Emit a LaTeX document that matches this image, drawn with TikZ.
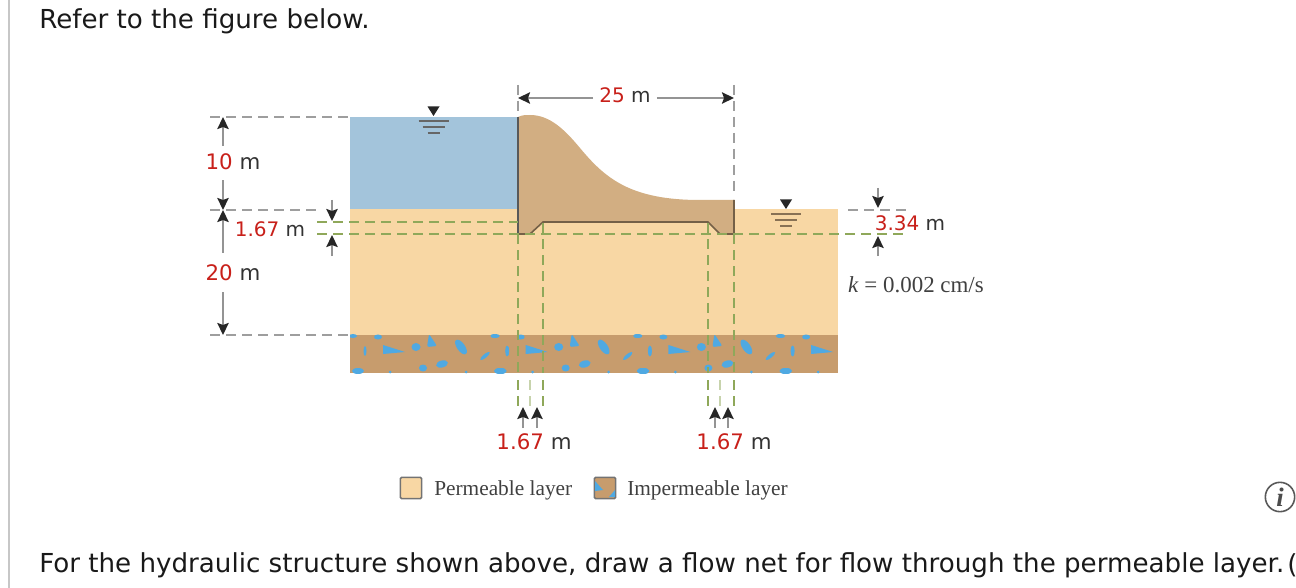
\documentclass[tikz,border=0pt]{standalone}
\usepackage{fontspec}
\setmainfont{DejaVu Sans}
\newfontfamily\bookfont{Liberation Serif}
\usetikzlibrary{arrows.meta}

\definecolor{waterc}{HTML}{A3C4DB}
\definecolor{soilc}{HTML}{F8D7A4}
\definecolor{rockc}{HTML}{C79C6D}
\definecolor{damc}{HTML}{D2AE82}
\definecolor{blobc}{HTML}{4FA9E2}
\definecolor{redc}{HTML}{C8201A}
\definecolor{greenc}{HTML}{8FA85A}

\tikzstyle{lbl}=[inner sep=0pt,font=\fontsize{16}{18}\selectfont,text=black!80]
\tikzstyle{lbls}=[lbl,font=\fontsize{15}{18}\selectfont]
\tikzstyle{book}=[inner sep=0pt,font=\bookfont\fontsize{16}{18}\selectfont,text=black!75]
\tikzstyle{para}=[inner sep=0pt,anchor=west,font=\fontsize{19.6}{23}\selectfont,text=black!90]
\tikzstyle{dim}=[draw=black!42,line width=1.5pt,-{Stealth[black!85,length=9pt,width=8.5pt,inset=1.5pt]}]
\tikzstyle{gline}=[draw=black!38,line width=1.5pt,dash pattern=on 7.5pt off 4.5pt]
\tikzstyle{gdash}=[draw=greenc,line width=1.5pt,dash pattern=on 7.5pt off 4.5pt]
\tikzstyle{swatch}=[minimum size=16pt,inner sep=0pt,draw=black!55,line width=1.2pt,rounded corners=1pt]

\newcommand{\redm}[1]{\textcolor{redc}{#1} m}
\newcommand{\blob}[5]{\fill[blobc,shift={(#1,#2)},rotate=#5] (0,0) ellipse (#3 and #4);}
\newcommand{\wtable}[3]{%
    \fill[black!85] (#1-6,#2-9.5) -- (#1+6,#2-9.5) -- (#1,#2) -- cycle;
    \draw[#3,line width=1.3pt] (#1-15,#2+5) -- (#1+15,#2+5);
    \draw[#3,line width=1.3pt] (#1-11,#2+11) -- (#1+11,#2+11);
    \draw[#3,line width=1.3pt] (#1-6,#2+17) -- (#1+6,#2+17);}

\begin{document}
\begin{tikzpicture}[x=0.75pt,y=-0.75pt]
        \useasboundingbox (0,0) rectangle (1296,588);
        \fill[black!22] (8,0) rectangle (10,588);

        % ground and water
        \fill[waterc] (350,117) rectangle (518,209);
        \fill[soilc] (350,209) rectangle (838,335);
        \fill[rockc] (350,335) rectangle (838,373);
        \begin{scope}
            \clip (350,333) rectangle (838,373);
            \foreach \dx in {0,142.7,285.4,428.1} {
                \begin{scope}[shift={(\dx,0)}]
                    \blob{353}{336}{4}{2}{0}
                    \blob{378}{337}{4}{2.5}{0}
                    \blob{494}{336}{3.5}{2}{0}
                    \blob{365}{351}{1.5}{5}{0}
                    \fill[blobc] (383,345) -- (405,352) -- (383,354) -- cycle;
                    \blob{416}{347}{4.5}{4}{0}
                    \fill[blobc,rounded corners=1.5pt] (429,334) -- (437,346) -- (427,347) -- cycle;
                    \blob{461}{347}{4}{8.5}{35}
                    \blob{485}{356}{1.8}{6}{-50}
                    \blob{507}{351}{1.8}{5.5}{0}
                    \blob{358}{371}{6}{3}{0}
                    \blob{423}{368}{4}{3.5}{0}
                    \blob{442}{364}{6}{3.5}{15}
                    \blob{390}{372}{1.5}{1.5}{0}
                    \blob{466}{372}{1.5}{1.5}{0}
                    \blob{500}{371}{6}{3}{0}
                \end{scope}
            }
        \end{scope}

        % structure
        \fill[damc] (518,117) .. controls (522,115) and (526,115) .. (530,115)
            .. controls (550,115) and (565,130) .. (580,148)
            .. controls (605,178) and (630,200) .. (700,200)
            -- (734,200) -- (734,234) -- (720,234) -- (708,222) -- (543,222)
            -- (530,234) -- (518,234) -- cycle;
        \draw[black!45!damc,line width=1.2pt] (518,234) -- (530,234) -- (543,222) -- (708,222)
            -- (720,234) -- (734,234) -- (734,200);
        \draw[black!65,line width=1.2pt] (518,117) -- (518,234);

        % water tables
        \wtable{433.5}{116}{black!60}
        \wtable{786}{209}{black!35!damc}

        % reference points
        \coordinate (tl) at (210,117);
        \coordinate (tr) at (348,117);
        \coordinate (ml) at (210,210);
        \coordinate (mr) at (318,210);
        \coordinate (bl) at (210,335);
        \coordinate (br) at (348,335);
        \coordinate (ga) at (317,222);
        \coordinate (gb) at (317,234);
        \coordinate (gc) at (518,222);
        \coordinate (gd) at (908,234);
        \coordinate (ra) at (848,210);
        \coordinate (rb) at (908,210);

        % dashed guides
        \draw[gline] (tl) -- (tr);
        \draw[gline] (ml) -- (mr);
        \draw[gline] (bl) -- (br);
        \draw[gline] (ra) -- (rb);
        \draw[gdash] (ga) -- (gc);
        \draw[gdash] (gb) -- (gd);
        \foreach \x/\y/\nm in {518/234/a,543/223/b,708/223/c,734/234/d} {
            \coordinate (\nm0) at (\x,\y);
            \coordinate (\nm1) at (\x,373);
            \coordinate (\nm2) at (\x,380);
            \coordinate (\nm3) at (\x,406);
            \draw[gdash] (\nm0) -- (\nm1);
            \draw[gdash] (\nm2) -- (\nm3);
        }
        \foreach \x/\nm in {530/e,720/f} {
            \coordinate (\nm2) at (\x,380);
            \coordinate (\nm3) at (\x,406);
            \draw[gdash,draw=greenc!50] (\nm2) -- (\nm3);
        }
        \coordinate (ta) at (518,85);
        \coordinate (tb) at (518,112);
        \coordinate (tc) at (734,85);
        \coordinate (td) at (734,195);
        \draw[gline] (ta) -- (tb);
        \draw[gline] (tc) -- (td);

        % labels
        \node[para] (title) at (39,21) {Refer to the figure below.};
        \node[para] (foot) at (39,565) {For the hydraulic structure shown above, draw a flow net for flow through the permeable layer.};
        \node[para] (foot2) at (1287,565) {(};
        \node[lbls] (l25) at (625,95) {\redm{25}};
        \node[lbl] (l10) at (233,162) {\redm{10}};
        \node[lbl] (l20) at (233,273) {\redm{20}};
        \node[lbls] (l167) at (270,229) {\redm{1.67}};
        \node[lbls] (l334) at (910,223) {\redm{3.34}};
        \node[lbl] (l167a) at (534,442) {\redm{1.67}};
        \node[lbl] (l167b) at (734,442) {\redm{1.67}};
        \node[book,font=\bookfont\fontsize{17.2}{18}\selectfont] (lk) at (916,285) {\textit{k} = 0.002 cm/s};

        % dimension arrows
        \coordinate (x10a) at (223,117);
        \coordinate (x10b) at (223,210);
        \coordinate (x20b) at (223,335);
        \draw[dim] (l10.north -| x10a) ++(0,-8) -- (x10a);
        \draw[dim] (l10.south -| x10a) ++(0,10) -- (x10b);
        \draw[dim] (l20.north -| x10a) ++(0,-12) -- (x10b);
        \draw[dim] (l20.south -| x10a) ++(0,11) -- (x20b);
        \coordinate (w25a) at (518,98);
        \coordinate (w25b) at (734,98);
        \draw[dim] (l25.west |- w25a) ++(-6,0) -- (w25a);
        \draw[dim] (l25.east |- w25b) ++(6,0) -- (w25b);
        \coordinate (y167a) at (332,200);
        \coordinate (y167b) at (332,221);
        \coordinate (y167c) at (332,256);
        \coordinate (y167d) at (332,235);
        \draw[dim] (y167a) -- (y167b);
        \draw[dim] (y167c) -- (y167d);
        \coordinate (y334a) at (878,188);
        \coordinate (y334b) at (878,208);
        \coordinate (y334c) at (878,256);
        \coordinate (y334d) at (878,236);
        \draw[dim] (y334a) -- (y334b);
        \draw[dim] (y334c) -- (y334d);
        \foreach \x/\nm in {523/p,537/q,715/r,728/s} {
            \coordinate (\nm0) at (\x,428);
            \coordinate (\nm1) at (\x,407);
            \draw[dim] (\nm0) -- (\nm1);
        }

        % legend
        \node[swatch,fill=soilc] (perm) at (411,488) {};
        \node[book,anchor=west] (permt) at (434,490) {Permeable layer};
        \node[swatch,fill=rockc] (imp) at (605,488) {};
        \fill[blobc] (595,481) -- (603,490) -- (595,491) -- cycle;
        \fill[blobc] (609,497) -- (615,490) -- (615,497) -- cycle;
        \node[book,anchor=west] (impt) at (627,490) {Impermeable layer};

        % info icon
        \node[circle,draw=black!65,line width=1.2pt,minimum size=22pt,inner sep=0pt,
            font=\bookfont\bfseries\itshape\fontsize{20}{20}\selectfont,text=black!70] (info) at (1280,497) {i};
    \end{tikzpicture}
\end{document}
